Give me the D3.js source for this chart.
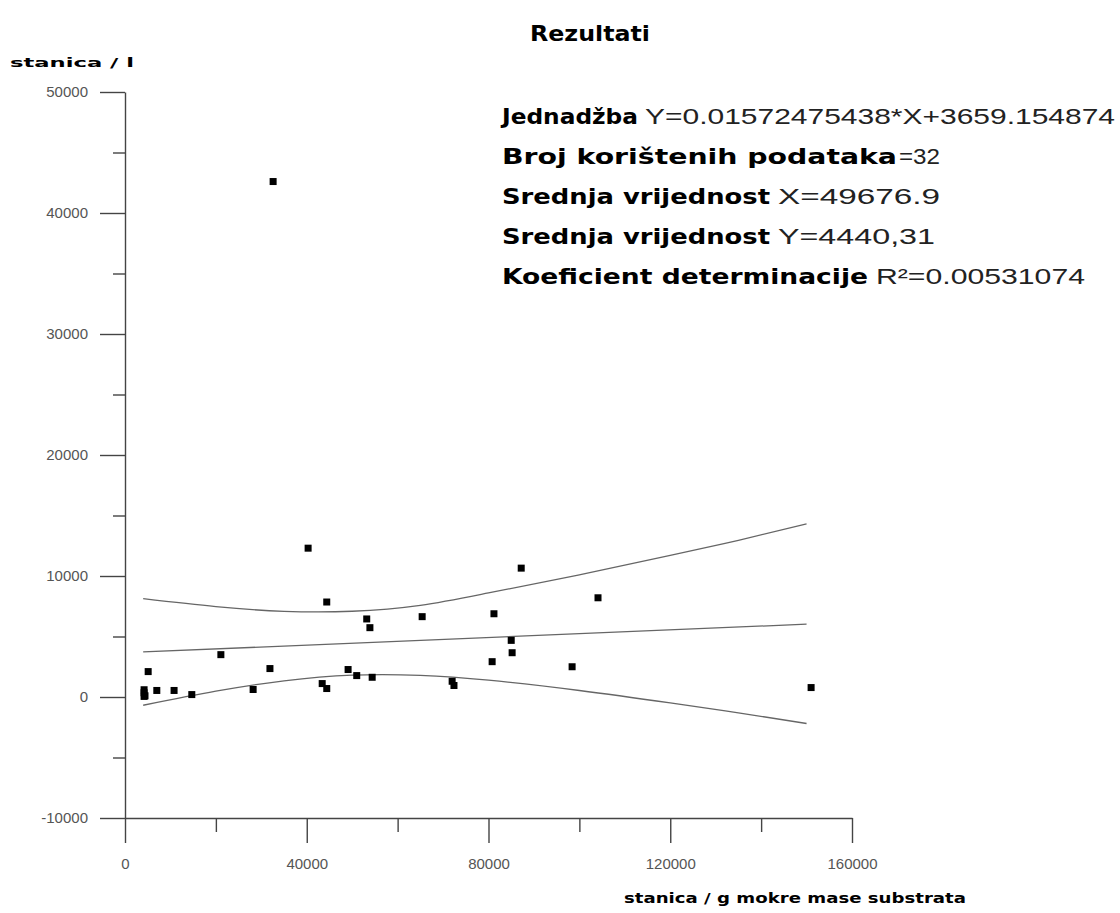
<!DOCTYPE html>
<html>
<head>
<meta charset="utf-8">
<script src="https://cdn.jsdelivr.net/npm/d3@7.9.0/dist/d3.min.js"></script>
<style>
  body { margin: 0; background: #fff; }
</style>
</head>
<body>
<svg id="chart" width="1120" height="913"></svg>
<script>
// measured points (stanica / g mokre mase substrata vs stanica / l)
const pointsX = [32600, 40300, 44400, 53200, 53900, 65400, 21100, 31900, 5100, 49100,
                 51000, 54400, 43400, 44400, 28200, 7000, 10800, 14700, 4200, 4200,
                 4400, 4200, 87200, 104100, 81200, 85000, 85200, 80800, 98400, 72000,
                 72400, 151000];
const pointsY = [42600, 12300, 7850, 6450, 5730, 6640, 3500, 2350, 2100, 2270,
                 1770, 1630, 1110, 700, 620, 540, 540, 200, 600, 350,
                 100, 50, 10650, 8200, 6880, 4680, 3660, 2920, 2500, 1300,
                 950, 780];

// regression line and confidence band
const fitX = [4000, 150000];
const fitY = [3722, 6018];
const bandX = [4000, 20000, 35000, 50000, 65000, 80000, 100000, 120000, 135000, 150000];
const upperY = [8125, 7468, 7082, 7085, 7574, 8600, 10100, 11700, 12950, 14300];
const lowerY = [-681, 480, 1336, 1805, 1788, 1390, 538, -487, -1309, -2190];

const xMajor = [0, 40000, 80000, 120000, 160000];
const xMinor = [20000, 60000, 100000, 140000];
const yMajor = [-10000, 0, 10000, 20000, 30000, 40000, 50000];
const yMinor = [-5000, 5000, 15000, 25000, 35000, 45000];

// result text block: [label, value]
const resultRows = [
  ["Jednadžba", "Y=0.01572475438*X+3659.154874"],
  ["Broj korištenih podataka", "=32"],
  ["Srednja vrijednost", "X=49676.9"],
  ["Srednja vrijednost", "Y=4440,31"],
  ["Koeficient determinacije", "R²=0.00531074"]
];

const svg = d3.select('#chart');

let x = d3.scaleLinear().domain([0, 160000]).range([125, 852]);
let y = d3.scaleLinear().domain([-10000, 50000]).range([818, 92]);

const axisColor = '#444';
const tickFont = '"Liberation Sans", Arial, sans-serif';
const plain = d => String(d); // keeps the ASCII hyphen on -10000

// y axis
svg.append('g')
    .attr('transform', 'translate(125,0)')
    .call(d3.axisLeft(y).tickValues(yMajor).tickSize(25).tickSizeOuter(0)
      .tickPadding(12).tickFormat(plain));
svg.append('g')
    .attr('transform', 'translate(125,0)')
    .call(d3.axisLeft(y).tickValues(yMinor).tickSize(12).tickFormat(''))
    .call(g => g.select('.domain').remove());

// x axis
svg.append('g')
    .attr('transform', 'translate(0,818)')
    .call(d3.axisBottom(x).tickValues(xMajor).tickSize(25).tickSizeOuter(0)
      .tickPadding(15).tickFormat(plain));
svg.append('g')
    .attr('transform', 'translate(0,818)')
    .call(d3.axisBottom(x).tickValues(xMinor).tickSize(14).tickFormat(''))
    .call(g => g.select('.domain').remove());

svg.selectAll('.domain, .tick line')
    .attr('stroke', axisColor)
    .attr('stroke-width', 1.4);
svg.selectAll('.tick text')
    .attr('fill', '#555')
    .style('font-family', tickFont)
    .style('font-size', '15px');

// regression line and band
let line = d3.line()
    .x(d => x(d[0]))
    .y(d => y(d[1]))
    .curve(d3.curveNatural);

[upperY, lowerY].forEach(series => {
    svg.append('path')
        .attr('d', line(bandX.map((v, i) => [v, series[i]])))
        .attr('fill', 'none')
        .attr('stroke', '#666')
        .attr('stroke-width', 1.3);
});
svg.append('path')
    .attr('d', line(fitX.map((v, i) => [v, fitY[i]])))
    .attr('fill', 'none')
    .attr('stroke', '#666')
    .attr('stroke-width', 1.3);

// points
svg.append('g')
  .selectAll('rect')
  .data(pointsX.map((v, i) => [v, pointsY[i]]))
  .join('rect')
    .attr('x', d => x(d[0]) - 3.5)
    .attr('y', d => y(d[1]) - 3.5)
    .attr('width', 7)
    .attr('height', 7)
    .attr('fill', '#000');

// texts
function addText(tx, ty, str, size, bold, len) {
    let t = svg.append('text')
        .attr('x', tx)
        .attr('y', ty)
        .attr('fill', bold ? '#000' : '#222')
        .style('font-family', bold ? '"DejaVu Sans", sans-serif' : tickFont)
        .style('font-weight', bold ? 'bold' : 'normal')
        .style('font-size', size + 'px')
        .text(str);
    if (len) t.attr('textLength', len).attr('lengthAdjust', 'spacingAndGlyphs');
    return t;
}

addText(530, 41, 'Rezultati', 22, true, 120);
addText(10, 67, 'stanica / l', 13, true, 124);
addText(624, 903, 'stanica / g mokre mase substrata', 14, true, 342);

// label and value extents [labelStart, labelEnd, valueStart, valueEnd]
const rowExtents = [
  [502, 638, 645, 1115],
  [502, 897, 899, 940],
  [502, 770, 778, 940],
  [502, 770, 778, 935],
  [502, 868, 876, 1085]
];
resultRows.forEach((r, i) => {
    let base = 124 + i * 40;
    let e = rowExtents[i];
    addText(e[0], base, r[0], 22, true, e[1] - e[0]);
    addText(e[2], base, r[1], 22, false, e[3] - e[2]);
});
</script>
</body>
</html>
